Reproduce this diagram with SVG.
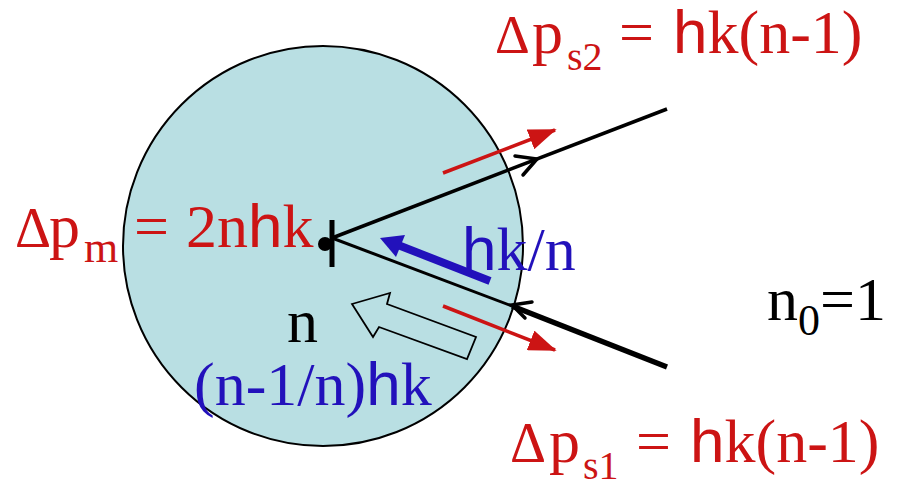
<svg xmlns="http://www.w3.org/2000/svg" width="899" height="479" viewBox="0 0 899 479">
<defs>
<style>
.serif{font-family:"Liberation Serif","Times New Roman",serif;font-size:62px}
.sans{font-family:"Liberation Sans",Arial,sans-serif}
.sub{font-size:40px}
.red{fill:#CC1414}
.blue{fill:#2211BB}
.blk{fill:#000}
.ln{stroke:#000;fill:none;stroke-linecap:butt}
.chev{stroke:#000;stroke-width:3.5;fill:none;stroke-linecap:round;stroke-linejoin:miter}
.rarrow{stroke:#CC1414;stroke-width:3.5}
</style>
<marker id="redHead" markerWidth="8" markerHeight="6" refX="7.5" refY="3" orient="auto" markerUnits="strokeWidth">
<path d="M0,0 L8,3 L0,6 Z" fill="#CC1414"/>
</marker>
</defs>
<rect width="899" height="479" fill="#fff"/>
<g id="medium">
<circle cx="323" cy="246" r="200" fill="#B9DFE3" stroke="#000" stroke-width="2"/>
</g>
<g id="connectors">
<line class="ln" x1="332" y1="238" x2="667" y2="109" stroke-width="3.5"/>
<polyline class="chev" points="515,156 537,159 523,175"/>
<line class="ln" x1="332" y1="238" x2="512" y2="306" stroke-width="3"/>
<line class="ln" x1="512" y1="306" x2="667" y2="367" stroke-width="5.5"/>
<polyline class="chev" points="532,302 512,305 525,318"/>
<line class="rarrow" x1="443" y1="173" x2="555" y2="130" marker-end="url(#redHead)"/>
<line class="rarrow" x1="443" y1="306" x2="555" y2="350" marker-end="url(#redHead)"/>
<line x1="490" y1="281" x2="398" y2="245" stroke="#2211BB" stroke-width="8"/>
<polygon points="380,238 405,235 396,257" fill="#2211BB"/>
<polygon points="352,304 390,293 387,304 476,337 467,359 379,327 373,337" fill="none" stroke="#000" stroke-width="1.8" stroke-linejoin="miter"/>
</g>
<g id="vertex">
<circle cx="325" cy="244" r="7" fill="#000"/>
<line x1="332" y1="220" x2="332" y2="267" stroke="#000" stroke-width="5"/>
</g>
<g id="label-ps2">
<text class="serif red" x="495" y="53" style="font-size:54px">Δ</text>
<text class="serif red" x="532" y="53">p</text>
<text class="serif red sub" x="567" y="70">s2</text>
<text class="serif red" x="619" y="53">=</text>
<text class="serif red" x="673" y="53"><tspan class="sans">h</tspan>k(n-1)</text>
</g>
<g id="label-pm">
<text class="serif red" x="15" y="247" style="font-size:56px">Δ</text>
<text class="serif red" x="49" y="247">p</text>
<text class="serif red" x="84" y="262" style="font-size:44px">m</text>
<text class="serif red" x="134" y="247">=</text>
<text class="serif red" x="186" y="247">2n<tspan class="sans">h</tspan>k</text>
</g>
<g id="label-hkn">
<text class="serif blue" x="462" y="270"><tspan class="sans">h</tspan>k/n</text>
</g>
<g id="label-n">
<text class="serif blk" x="287" y="342">n</text>
</g>
<g id="label-n1nhk">
<text class="serif blue" x="194" y="405">(n-1/n)<tspan class="sans">h</tspan>k</text>
</g>
<g id="label-n0">
<text class="serif blk" x="767" y="320">n<tspan dy="15" style="font-size:44px">0</tspan><tspan dy="-15">=1</tspan></text>
</g>
<g id="label-ps1">
<text class="serif red" x="510" y="462" style="font-size:56px">Δ</text>
<text class="serif red" x="549" y="462">p</text>
<text class="serif red sub" x="583" y="479">s1</text>
<text class="serif red" x="636" y="462">=</text>
<text class="serif red" x="690" y="462"><tspan class="sans">h</tspan>k(n-1)</text>
</g>
</svg>
